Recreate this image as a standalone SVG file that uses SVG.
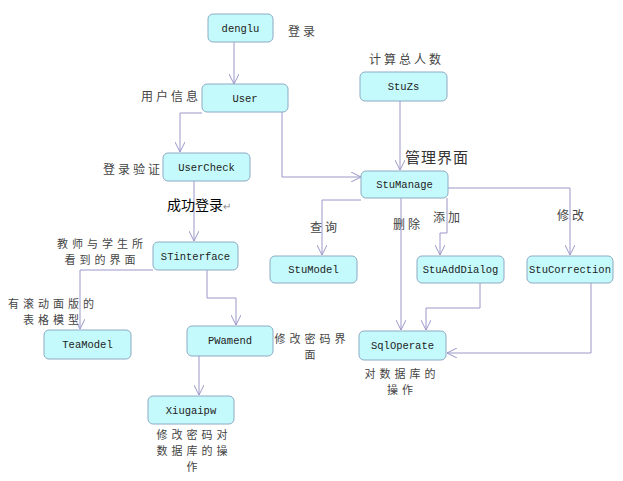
<svg xmlns="http://www.w3.org/2000/svg" width="623" height="481" viewBox="0 0 623 481">
<defs>
<marker id="arr" viewBox="0 0 10 10" refX="10" refY="5" markerWidth="10" markerHeight="10" markerUnits="userSpaceOnUse" orient="auto">
<path d="M0,0 L10,5 L0,10" fill="none" stroke="#9a98c8" stroke-width="1"/>
</marker>
<style>
.n rect{fill:#c4fafc;stroke:#8eaac4;stroke-width:1}
.n text{font-family:"Liberation Mono",monospace;font-size:10.5px;fill:#222;text-anchor:middle}
.c path{fill:none;stroke:#9a98c8;stroke-width:1;marker-end:url(#arr)}
.l{font-family:"Noto Sans CJK SC",sans-serif;font-size:12px;letter-spacing:3px;fill:#444}
.lc{font-family:"Noto Sans CJK SC",sans-serif;font-size:11px;letter-spacing:4px;fill:#444;text-anchor:middle}
</style>
</defs>
<rect width="623" height="481" fill="#fff"/>
<g class="c" id="connectors">
<path d="M234,42 V84"/>
<path d="M202,113 H180 V152"/>
<path d="M282,112 V177 H361"/>
<path d="M194,181 V241"/>
<path d="M400,101 V170"/>
<path d="M153,270 H80 V329"/>
<path d="M207,270 V298 H236 V325"/>
<path d="M199,356 V395"/>
<path d="M361,200 H322 V255"/>
<path d="M401,198 V330"/>
<path d="M447,198 V233 H440 V255"/>
<path d="M448,188 H570 V255"/>
<path d="M480,283 V308 H426 V330"/>
<path d="M591,283 V353 H447"/>
</g>
<g class="n" id="denglu"><rect x="208" y="14" width="65" height="28" rx="5"/><text x="240.5" y="32">denglu</text></g>
<g class="n" id="User"><rect x="202" y="84" width="86" height="28" rx="5"/><text x="245" y="102">User</text></g>
<g class="n" id="UserCheck"><rect x="163" y="153" width="87" height="28" rx="5"/><text x="206.5" y="171">UserCheck</text></g>
<g class="n" id="STinterface"><rect x="153" y="242" width="85" height="28" rx="5"/><text x="195.5" y="260">STinterface</text></g>
<g class="n" id="StuZs"><rect x="360" y="72" width="87" height="29" rx="5"/><text x="403.5" y="90">StuZs</text></g>
<g class="n" id="StuManage"><rect x="361" y="171" width="87" height="27" rx="5"/><text x="404.5" y="188">StuManage</text></g>
<g class="n" id="StuModel"><rect x="270" y="256" width="87" height="27" rx="5"/><text x="313.5" y="273">StuModel</text></g>
<g class="n" id="StuAddDialog"><rect x="417" y="256" width="87" height="27" rx="5"/><text x="460.5" y="273">StuAddDialog</text></g>
<g class="n" id="StuCorrection"><rect x="527" y="256" width="86" height="27" rx="5"/><text x="570" y="273">StuCorrection</text></g>
<g class="n" id="SqlOperate"><rect x="359" y="331" width="87" height="29" rx="5"/><text x="402.5" y="349">SqlOperate</text></g>
<g class="n" id="TeaModel"><rect x="44" y="330" width="87" height="29" rx="5"/><text x="87.5" y="348">TeaModel</text></g>
<g class="n" id="PWamend"><rect x="187" y="326" width="86" height="30" rx="5"/><text x="230" y="344">PWamend</text></g>
<g class="n" id="Xiugaipw"><rect x="148" y="396" width="86" height="28" rx="5"/><text x="191" y="414">Xiugaipw</text></g>
<g id="labels">
<text class="l" x="288" y="36">登录</text>
<text class="l" x="141" y="101">用户信息</text>
<text class="l" x="103" y="174">登录验证</text>
<text x="167" y="210" font-family="Noto Sans CJK SC,sans-serif" font-size="14" fill="#000">成功登录<tspan fill="#888" font-size="10">↵</tspan></text>
<text class="lc" x="102" y="248">教师与学生所</text>
<text class="lc" x="102" y="264">看到的界面</text>
<text class="l" x="369" y="64">计算总人数</text>
<text x="405" y="163" font-family="Noto Sans CJK SC,sans-serif" font-size="15" letter-spacing="1" fill="#333">管理界面</text>
<text class="l" x="310" y="232">查询</text>
<text class="l" x="393" y="229">删除</text>
<text class="l" x="433" y="222">添加</text>
<text class="l" x="557" y="220">修改</text>
<text class="lc" x="402" y="378">对数据库的</text>
<text class="lc" x="402" y="394">操作</text>
<text class="lc" x="53" y="308">有滚动面版的</text>
<text class="lc" x="53" y="324">表格模型</text>
<text class="lc" x="312" y="343">修改密码界</text>
<text class="lc" x="312" y="359">面</text>
<text class="lc" x="194" y="439">修改密码对</text>
<text class="lc" x="194" y="455">数据库的操</text>
<text class="lc" x="194" y="471">作</text>
</g>
</svg>
